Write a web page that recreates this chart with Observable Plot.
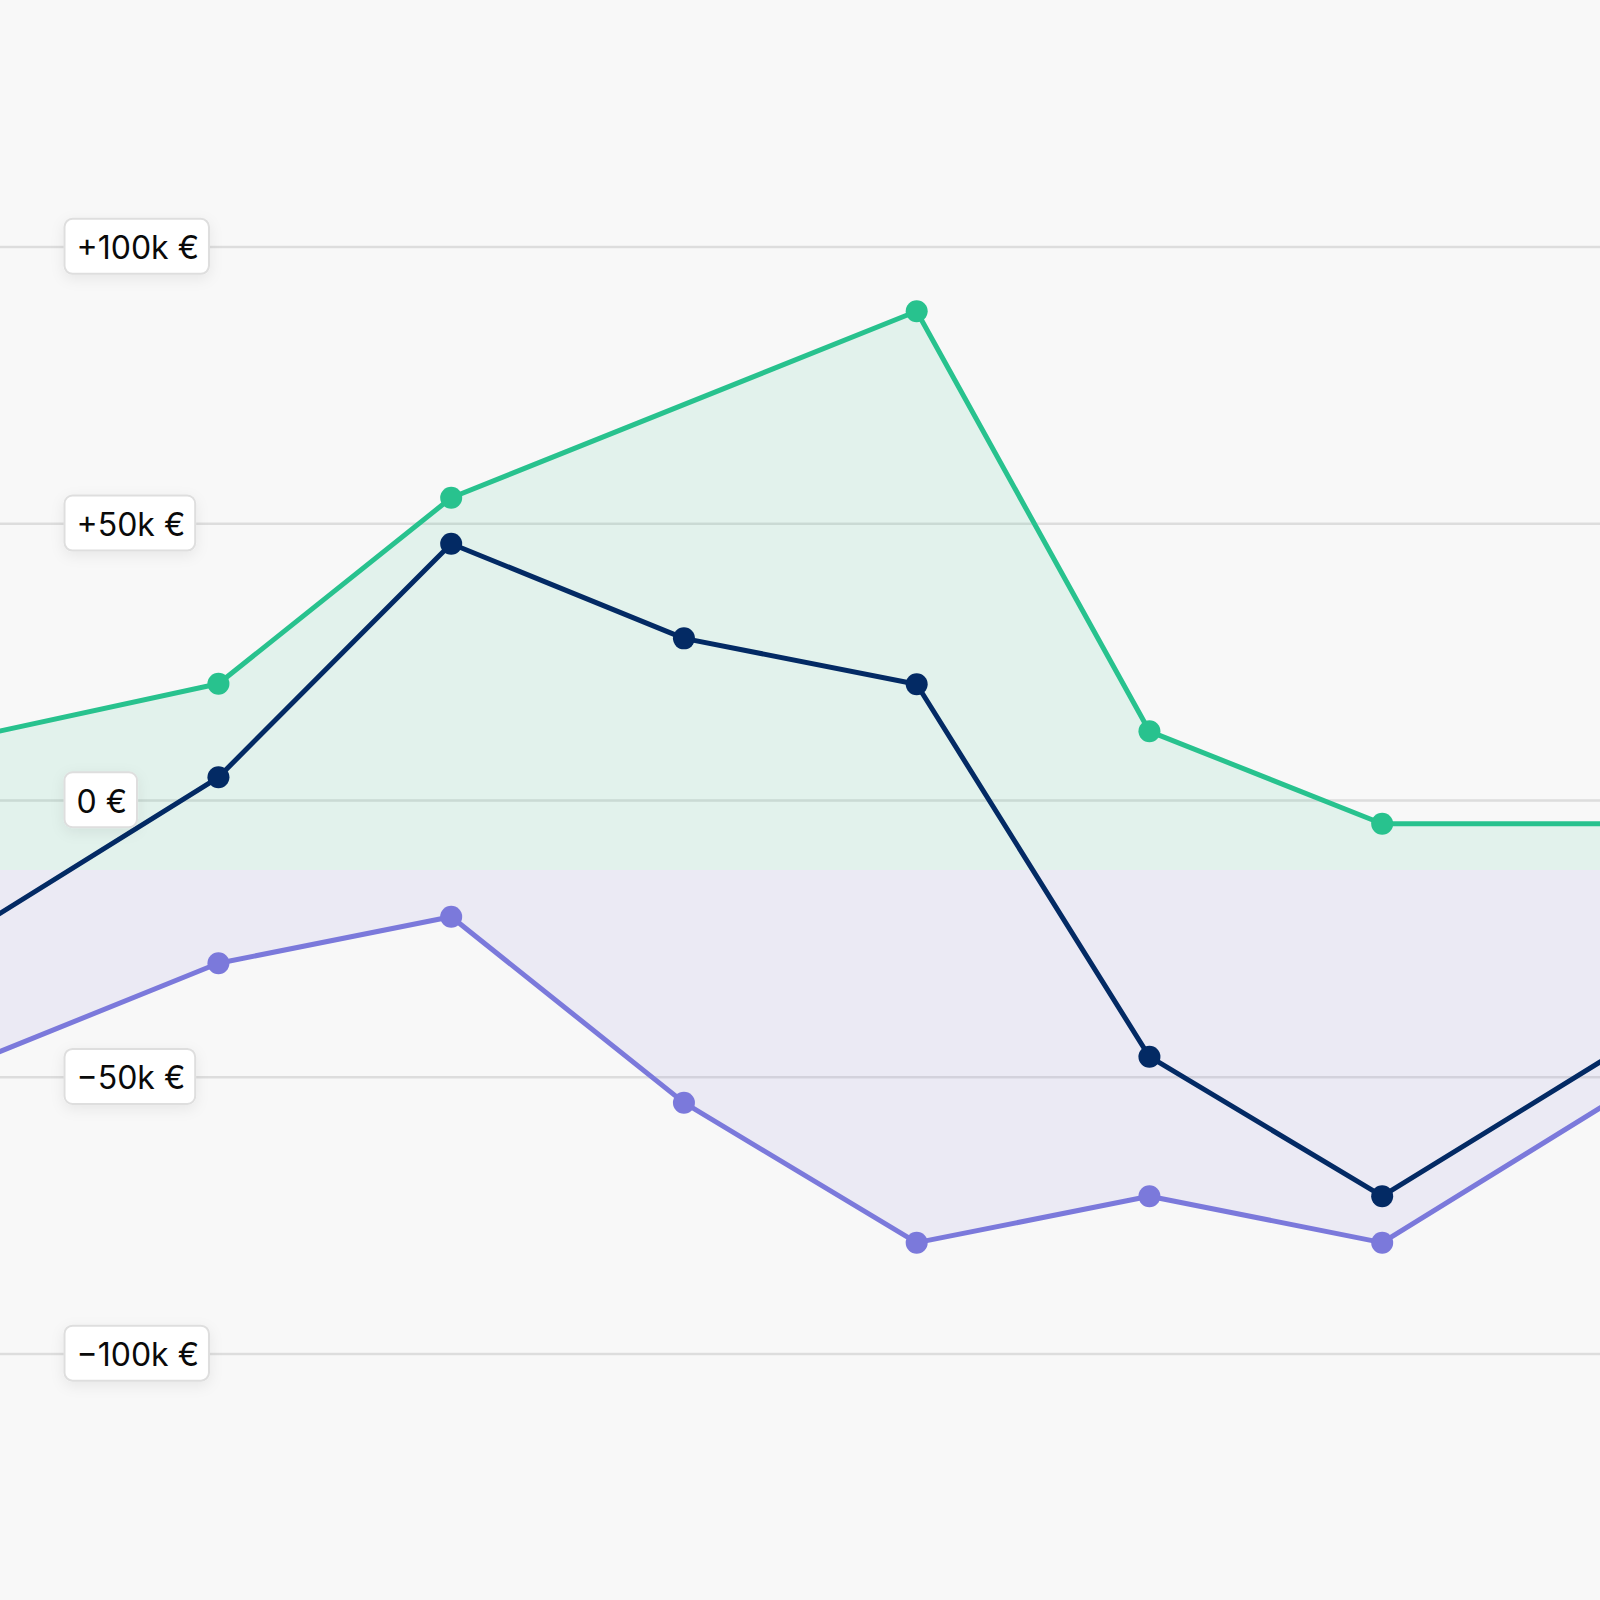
<!DOCTYPE html>
<html>
<head>
<meta charset="utf-8">
<script src="https://cdn.jsdelivr.net/npm/d3@7"></script>
<script src="https://cdn.jsdelivr.net/npm/@observablehq/plot@0.6"></script>
<style>
  html, body { margin: 0; padding: 0; background: #f8f8f8; }
  #chart { width: 1600px; height: 1600px; overflow: hidden; }
</style>
</head>
<body>
<div id="chart"></div>
<script>
// Data (values in euros)
const periods = [0, 1, 2, 3, 4, 5, 6, 7];
const upperValues = [12000, 21100, 54700, null, 88400, 12500, -4200, -4200];
const netValues = [-22000, 4200, 46400, 29300, 21000, -46300, -71500, -45600];
const lowerValues = [-46400, -29400, -21000, -54600, -79900, -71500, -79900, -53900];
const bandSplit = -12650;
const tickValues = [100000, 50000, 0, -50000, -100000];
const tickLabels = ["+100k €", "+50k €", "0 €", "−50k €", "−100k €"];

const green = "#28c28e";
const navy = "#032a64";
const purple = "#7b79db";

const upper = periods.map((p, i) => ({p, v: upperValues[i]})).filter(d => d.v != null);
const net = periods.map((p, i) => ({p, v: netValues[i]}));
const lower = periods.map((p, i) => ({p, v: lowerValues[i]}));
const ticks = tickValues.map((v, i) => ({v, label: tickLabels[i]}));

const plot = Plot.plot({
  width: 1600,
  height: 1600,
  margin: 0,
  style: {background: "#f8f8f8", fontFamily: "Inter, 'Liberation Sans', sans-serif"},
  x: {domain: [0.0636, 6.938], axis: null},
  y: {domain: [-144560, 144560], axis: null},
  marks: [
    Plot.ruleY(ticks, {y: "v", stroke: "#dddddd", strokeWidth: 2.5}),
    Plot.areaY(upper, {x: "p", y1: "v", y2: bandSplit, fill: green, fillOpacity: 0.1, clip: true}),
    Plot.areaY(lower, {x: "p", y1: "v", y2: bandSplit, fill: purple, fillOpacity: 0.1, clip: true}),
    Plot.line(upper, {x: "p", y: "v", stroke: green, strokeWidth: 5, strokeLinejoin: "round", clip: true}),
    Plot.line(lower, {x: "p", y: "v", stroke: purple, strokeWidth: 5, strokeLinejoin: "round", clip: true}),
    Plot.line(net, {x: "p", y: "v", stroke: navy, strokeWidth: 5, strokeLinejoin: "round", clip: true}),
    Plot.dot(upper, {x: "p", y: "v", r: 11, fill: green, clip: true}),
    Plot.dot(lower, {x: "p", y: "v", r: 11, fill: purple, clip: true}),
    Plot.dot(net, {x: "p", y: "v", r: 11, fill: navy, clip: true}),
    Plot.text(ticks, {y: "v", text: "label", frameAnchor: "left", dx: 76, dy: 2, textAnchor: "start", lineAnchor: "middle", fontSize: 32, fill: "#0a0a0a"})
  ]
});

document.getElementById("chart").appendChild(plot);

// Draw rounded label boxes behind the tick labels, centred on the gridline
const ns = "http://www.w3.org/2000/svg";
const defs = document.createElementNS(ns, "defs");
defs.innerHTML = '<filter id="shadow" x="-30%" y="-50%" width="160%" height="220%"><feDropShadow dx="0" dy="4" stdDeviation="7" flood-color="#000" flood-opacity="0.07"/></filter>';
plot.insertBefore(defs, plot.firstChild);
plot.querySelectorAll('g[aria-label="text"] text').forEach(t => {
  const b = t.getBBox();
  const cy = b.y + b.height / 2 - 2;
  const rect = document.createElementNS(ns, "rect");
  if (t.getAttribute("transform")) rect.setAttribute("transform", t.getAttribute("transform"));
  rect.setAttribute("x", b.x - 12);
  rect.setAttribute("y", cy - 27);
  rect.setAttribute("width", b.width + 22);
  rect.setAttribute("height", 55);
  rect.setAttribute("rx", 8);
  rect.setAttribute("fill", "#ffffff");
  rect.setAttribute("stroke", "#dedede");
  rect.setAttribute("stroke-width", 2);
  rect.setAttribute("filter", "url(#shadow)");
  t.parentNode.insertBefore(rect, t);
});
</script>
</body>
</html>
